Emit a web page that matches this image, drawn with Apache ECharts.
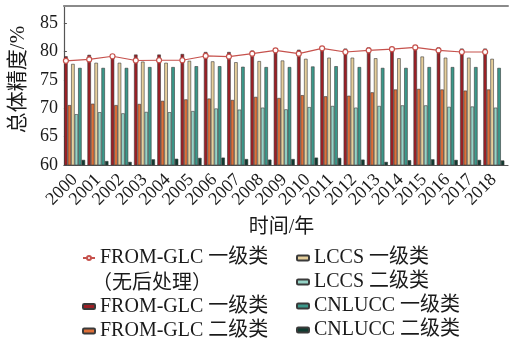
<!DOCTYPE html>
<html>
<head>
<meta charset="utf-8">
<script src="https://cdn.jsdelivr.net/npm/echarts@6/dist/echarts.min.js"></script>
<style>
  html, body { margin: 0; padding: 0; background: #fff; }
  #chart { width: 509px; height: 341px; }
</style>
</head>
<body>
<div id="chart"></div>
<script>
// Overall accuracy by year for three land-cover products
const years = ['2000','2001','2002','2003','2004','2005','2006','2007','2008','2009',
               '2010','2011','2012','2013','2014','2015','2016','2017','2018'];
const yTicks = { min: 60, max: 88, interval: 5 };

const fromGlcL1Raw = [78.35, 78.6, 79.15, 78.4, 78.45, 78.45, 79.2, 79.1, 79.6, 80.2,
                      79.6, 80.55, 79.9, 80.2, 80.4, 80.7, 80.2, 79.9, 79.9];
const fromGlcL1 = [79.15, 79.4, 79.3, 79.45, 79.45, 79.55, 79.9, 79.9, 80.15, 79.9,
                   80.3, 80.5, 80.5, 80.7, 80.7, 80.8, 80.7, 80.5, 80.5];
const fromGlcL2 = [70.55, 70.8, 70.55, 70.75, 71.3, 71.55, 71.7, 71.45, 72.0, 71.8,
                   72.3, 72.1, 72.2, 72.8, 73.3, 73.4, 73.3, 73.1, 73.3];
const lccsL1 = [77.8, 78.0, 78.0, 78.2, 78.0, 78.35, 78.25, 78.1, 78.3, 78.4,
                78.7, 78.9, 78.9, 78.8, 78.8, 79.1, 78.9, 78.9, 78.7];
const lccsL2 = [68.95, 69.3, 69.1, 69.35, 69.3, 69.5, 69.95, 69.75, 70.1, 69.8,
                70.2, 70.4, 70.1, 70.4, 70.5, 70.5, 70.25, 70.3, 70.1];
const cnluccL1 = [77.1, 77.1, 77.1, 77.25, 77.25, 77.4, 77.4, 77.3, 77.25, 77.25,
                  77.35, 77.4, 77.25, 77.1, 77.1, 77.25, 77.25, 77.25, 77.1];
const cnluccL2 = [60.9, 60.7, 60.55, 61.0, 61.1, 61.25, 61.3, 61.05, 60.95, 61.05,
                  61.3, 61.25, 60.95, 60.55, 60.85, 61.0, 60.9, 60.9, 60.8];

const NAMES = {
  raw: 'FROM-GLC 一级类（无后处理）',
  f1: 'FROM-GLC 一级类',
  f2: 'FROM-GLC 二级类',
  l1: 'LCCS 一级类',
  l2: 'LCCS 二级类',
  c1: 'CNLUCC 一级类',
  c2: 'CNLUCC 二级类'
};

const FONT = "'Liberation Serif', 'Noto Sans CJK SC', serif";
const BAR_CATEGORY_GAP = 0.10;   // fraction of a category left empty
const BARS_PER_GROUP = 6;

// The unprocessed FROM-GLC line sits on the first bar of each group
const firstBarOffset = -(1 - BAR_CATEGORY_GAP) / 2 + (1 - BAR_CATEGORY_GAP) / BARS_PER_GROUP / 2;
const rawLineData = fromGlcL1Raw.map((v, i) => [i + firstBarOffset, v]);

const barBorder = { borderColor: '#3a3a3a', borderWidth: 0.6 };
function barSeries(name, data, color) {
  return {
    name, type: 'bar', data,
    xAxisIndex: 2, yAxisIndex: 1,
    barGap: 0, barCategoryGap: (BAR_CATEGORY_GAP * 100) + '%',
    itemStyle: Object.assign({ color }, barBorder),
    z: 2
  };
}

const chart = echarts.init(document.getElementById('chart'), null, { renderer: 'canvas' });

const legendText = { fontFamily: FONT, fontSize: 20, color: '#1a1a1a', lineHeight: 23 };
const legendCommon = {
  padding: 0, orient: 'vertical', height: 120,
  itemWidth: 12, itemHeight: 5, textStyle: legendText
};

chart.setOption({
  animation: false,
  backgroundColor: '#fff',
  grid: [
    { left: 59, right: 1, top: 6, bottom: 176 },     // frame and y scale
    { left: 63, right: 3.5, top: 6, bottom: 176 }    // bars and line
  ],
  xAxis: [
    {
      gridIndex: 0, type: 'category', data: years,
      axisLine: { lineStyle: { color: '#555', width: 1.2 } },
      axisTick: { show: false }, axisLabel: { show: false },
      name: '时间/年', nameLocation: 'middle', nameGap: 53,
      nameTextStyle: { fontFamily: FONT, fontSize: 20, color: '#1a1a1a', padding: [0, 9, 0, 0] }
    },
    {
      gridIndex: 0, type: 'category', data: years, position: 'top',
      axisLine: { lineStyle: { color: '#8a8a8a', width: 2 } },
      axisTick: { show: false }, axisLabel: { show: false }
    },
    {
      gridIndex: 1, type: 'category', data: years,
      axisLine: { show: false }, axisTick: { show: false },
      axisLabel: { rotate: 45, margin: 12, interval: 0, fontFamily: FONT, fontSize: 18, color: '#1a1a1a' }
    },
    {
      gridIndex: 1, type: 'value', min: -0.5, max: years.length - 0.5, show: false
    }
  ],
  yAxis: [
    {
      gridIndex: 0, type: 'value', min: yTicks.min, max: yTicks.max, interval: yTicks.interval,
      axisLine: { show: true, lineStyle: { color: '#555', width: 1.2 } },
      axisTick: { show: true, inside: true, length: 3, lineStyle: { color: '#555' } },
      axisLabel: { showMaxLabel: false, margin: 6, fontFamily: FONT, fontSize: 18, color: '#1a1a1a' },
      splitLine: { show: false },
      name: '总体精度/%', nameLocation: 'middle', nameGap: 34,
      nameTextStyle: { fontFamily: FONT, fontSize: 21, color: '#1a1a1a', padding: [0, 0, 0, 12] }
    },
    {
      gridIndex: 1, type: 'value', min: yTicks.min, max: yTicks.max, show: false
    }
  ],
  legend: [
    Object.assign({}, legendCommon, {
      data: [NAMES.raw], left: 82, top: 246.5, itemGap: 0,
      formatter: () => NAMES.f1
    }),
    Object.assign({}, legendCommon, {
      data: [NAMES.f1, NAMES.f2], left: 82, top: 295, itemGap: 1.5
    }),
    Object.assign({}, legendCommon, {
      data: [NAMES.l1, NAMES.l2, NAMES.c1, NAMES.c2], left: 296, top: 246.5, itemGap: 1
    })
  ],
  graphic: [
    {
      type: 'text', left: 92, top: 274,
      style: { text: '（无后处理）', font: "20px " + FONT, fill: '#1a1a1a' }
    }
  ],
  series: [
    barSeries(NAMES.f1, fromGlcL1, '#9c1f25'),
    barSeries(NAMES.f2, fromGlcL2, '#de6f38'),
    barSeries(NAMES.l1, lccsL1, '#e6cf9b'),
    barSeries(NAMES.l2, lccsL2, '#95d4c7'),
    barSeries(NAMES.c1, cnluccL1, '#3b988a'),
    barSeries(NAMES.c2, cnluccL2, '#0f3b30'),
    {
      name: NAMES.raw, type: 'line', data: rawLineData,
      xAxisIndex: 3, yAxisIndex: 1,
      symbol: 'circle', symbolSize: 5,
      lineStyle: { color: '#c6524d', width: 1.2 },
      itemStyle: { color: '#fff', borderColor: '#c6524d', borderWidth: 1.2 },
      z: 5
    }
  ]
});
</script>
</body>
</html>
